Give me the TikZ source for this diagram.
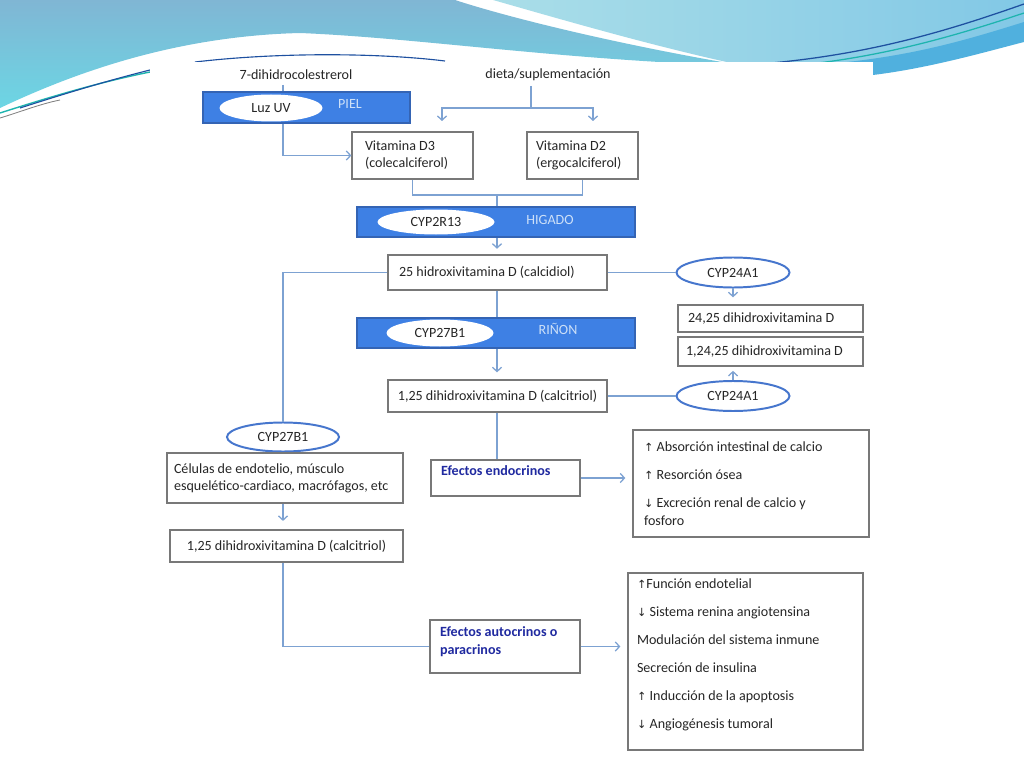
\documentclass[tikz,border=0pt]{standalone}
\usepackage{fontspec}
\setmainfont{Carlito}
\newfontfamily\arrowfont{DejaVu Sans}
\usetikzlibrary{arrows.meta,shapes.geometric}
\newlength{\dimpx}
\setlength{\dimpx}{0.025cm}
\newcommand{\ArrUp}{{\arrowfont\fontsize{8}{10}\selectfont\char"2191}}
\newcommand{\ArrDn}{{\arrowfont\fontsize{8}{10}\selectfont\char"2193}}
\definecolor{barblue}{RGB}{62,128,228}
\definecolor{barline}{RGB}{52,100,180}
\definecolor{connc}{RGB}{125,162,210}
\definecolor{elline}{RGB}{70,118,205}
\definecolor{efblue}{RGB}{32,42,160}
\definecolor{txtc}{RGB}{38,38,38}
\definecolor{boxc}{RGB}{120,120,120}
\definecolor{palec}{RGB}{205,224,248}
\definecolor{lbtop}{RGB}{128,182,212}
\definecolor{lbbot}{RGB}{108,214,228}
\definecolor{rtl}{RGB}{170,222,232}
\definecolor{rtr}{RGB}{130,200,230}
\definecolor{rband}{RGB}{80,176,222}
\definecolor{darkline}{RGB}{30,80,160}
\definecolor{tealline}{RGB}{30,180,175}
\begin{document}
\begin{tikzpicture}[x=0.025cm,y=-0.025cm,
  every node/.style={font=\fontsize{10}{12}\selectfont, text=txtc},
  conn/.style={draw=connc, line width=0.9pt},
  arr/.style={conn, -{Straight Barb[length=3pt,width=6.5pt]}},
  box/.style={draw=boxc, line width=0.9pt, fill=white, inner ysep=0pt, align=flush left},
  cbox/.style={draw=boxc, line width=0.9pt, fill=white, inner sep=0pt, align=center},
  bar/.style={draw=barline, line width=0.8pt, fill=barblue, inner sep=0pt},
  inell/.style={ellipse, fill=white, inner sep=0pt},
  oell/.style={ellipse, draw=elline, line width=1.4pt, fill=white, inner sep=0pt},
  barlab/.style={text=palec},
  eff/.style={text=efblue, font=\fontsize{10}{12.5}\selectfont\bfseries}]
\useasboundingbox (0,0) rectangle (1024,768);
% background slide
\fill[white] (0,0) rectangle (1024,768);
\shade[top color=lbtop, bottom color=lbbot] (0,0) -- (455,0) .. controls (510,18) and (620,45) .. (745,66) .. controls (560,60) and (420,38) .. (300,33) .. controls (180,36) and (80,70) .. (0,108) -- cycle;
\shade[left color=rtl, right color=rtr] (493,0) -- (1024,0) -- (1024,30) .. controls (980,45) and (930,62) .. (873,72) -- (745,66) .. controls (660,48) and (570,22) .. (493,0) -- cycle;
\fill[rband] (1024,22) .. controls (960,42) and (900,60) .. (800,66) -- (873,75) .. controls (930,68) and (985,52) .. (1024,42) -- cycle;
\draw[darkline, line width=0.9pt] (1024,4) .. controls (950,30) and (870,55) .. (760,64);
\draw[tealline, line width=0.9pt] (1024,13) .. controls (955,36) and (880,58) .. (790,66);
\draw[tealline, line width=1pt] (0,113) .. controls (50,97) and (100,82) .. (150,72);
\draw[darkline, line width=0.8pt] (20,108) .. controls (70,92) and (110,80) .. (150,70);
\draw[gray, line width=0.6pt] (0,118) .. controls (20,112) and (40,104) .. (60,100);
\draw[darkline, line width=0.8pt] (195,62) .. controls (280,52) and (380,53) .. (445,61);
\fill[white] (150,62) rectangle (873,768);

% top texts
\node (t7) at (296,75) {7-dihidrocolestrerol};
\node (diet) at (548,75) {dieta/suplementación};

% PIEL
\node[bar, minimum width=207\dimpx, minimum height=31\dimpx] (piel) at (306.5,107.5) {};
\node[inell, minimum width=103\dimpx, minimum height=27\dimpx] (luz) at (271,108) {Luz UV};
\node[barlab] (pielT) at (350,104) {PIEL};

% vitamins
\node[box, minimum width=121\dimpx, minimum height=47\dimpx, text width=95\dimpx, inner xsep=13\dimpx] (vd3) at (412.5,155.5) {Vitamina D3\\(colecalciferol)};
\node[box, minimum width=111\dimpx, minimum height=47\dimpx, text width=93\dimpx, inner xsep=9\dimpx] (vd2) at (582.5,155.5) {Vitamina D2\\(ergocalciferol)};

% HIGADO
\node[bar, minimum width=278\dimpx, minimum height=30\dimpx] (hig) at (496,222) {};
\node[inell, minimum width=117\dimpx, minimum height=25\dimpx] (c2r) at (436,222) {CYP2R13};
\node[barlab] (higT) at (550,220) {HIGADO};

% 25 hidroxi
\node[box, minimum width=219\dimpx, minimum height=35\dimpx, text width=197\dimpx, inner xsep=11\dimpx] (c25) at (497.5,272.5) {25 hidroxivitamina D (calcidiol)};
\node[oell, minimum width=113\dimpx, minimum height=30\dimpx] (e24a) at (733,272.5) {CYP24A1};
\node[box, minimum width=185\dimpx, minimum height=27\dimpx, text width=165\dimpx, inner xsep=10\dimpx] (d2425) at (770.5,318.5) {24,25 dihidroxivitamina D};
\node[box, minimum width=185\dimpx, minimum height=29\dimpx, text width=169\dimpx, inner xsep=8\dimpx] (d12425) at (770.5,351.5) {1,24,25 dihidroxivitamina D};

% RIÑON
\node[bar, minimum width=278\dimpx, minimum height=30\dimpx] (rin) at (496,333) {};
\node[inell, minimum width=107\dimpx, minimum height=27\dimpx] (c27) at (440,333) {CYP27B1};
\node[barlab] (rinT) at (558,329) {RIÑON};

% calcitriol 1
\node[cbox, minimum width=219\dimpx, minimum height=32\dimpx] (ctr1) at (497.5,396) {1,25 dihidroxivitamina D (calcitriol)};
\node[oell, minimum width=113\dimpx, minimum height=30\dimpx] (e24b) at (733,396) {CYP24A1};

% left branch
\node[oell, minimum width=112\dimpx, minimum height=29\dimpx] (e27) at (283,437) {CYP27B1};
\node[box, minimum width=236\dimpx, minimum height=50\dimpx, text width=222\dimpx, inner xsep=7\dimpx] (cel) at (285,478) {Células de endotelio, músculo\\esquelético-cardiaco, macrófagos, etc};
\node[cbox, minimum width=233\dimpx, minimum height=32\dimpx] (ctr2) at (286.5,546) {1,25 dihidroxivitamina D (calcitriol)};

% effects
\node[box, minimum width=149\dimpx, minimum height=36\dimpx, text width=129\dimpx, inner xsep=10\dimpx, eff] (endo) at (505.5,478) {Efectos endocrinos\\[-2pt]\mbox{}};
\node[box, minimum width=150\dimpx, minimum height=53\dimpx, text width=130\dimpx, inner xsep=10\dimpx, eff] (auto) at (505,646.5) {Efectos autocrinos o\\paracrinos\\[-4pt]\mbox{}};

\node[box, minimum width=236\dimpx, minimum height=107\dimpx, text width=214\dimpx, inner xsep=11\dimpx, font=\fontsize{10}{12.5}\selectfont] (rb1) at (751,483.5) {\ArrUp\ Absorción intestinal de calcio\\[7.5pt]\ArrUp\ Resorción ósea\\[7.5pt]\ArrDn\ Excreción renal de calcio y\\fosforo};
\node[box, minimum width=235\dimpx, minimum height=177\dimpx, text width=217\dimpx, inner xsep=9\dimpx, font=\fontsize{10}{19.9}\selectfont] (rb2) at (745.5,661.5) {\ArrUp Función endotelial\\\ArrDn\ Sistema renina angiotensina\\Modulación del sistema inmune\\Secreción de insulina\\\ArrUp\ Inducción de la apoptosis\\\ArrDn\ Angiogénesis tumoral\\[-9pt]\mbox{}};

% connectors
\coordinate (k1) at (283,155.5);
\draw[conn] (k1 |- t7.south) -- (k1 |- piel.north);
\draw[arr] (k1 |- piel.south) -- (k1) -- (vd3.west);
\coordinate (dj) at (531,108);
\coordinate (a3) at (442,121);
\coordinate (a2) at (593,121);
\draw[conn] (dj |- diet.south) -- (dj);
\draw[arr] (dj) -| (a3);
\draw[arr] (dj) -| (a2);
\coordinate (mj) at (497,195);
\draw[conn] (vd3.south) |- (mj) -| (vd2.south);
\draw[conn] (mj) -- (mj |- hig.north);
\draw[arr, shorten >=4pt] (mj |- hig.south) -- (mj |- c25.north);
\draw[conn] (c25.east) -- (e24a.west);
\draw[arr, shorten >=5pt] (e24a.south) -- (e24a.south |- d2425.north);
\draw[conn] (mj |- c25.south) -- (mj |- rin.north);
\draw[arr, shorten >=5pt] (mj |- rin.south) -- (mj |- ctr1.north);
\draw[conn] (ctr1.east) -- (e24b.west);
\draw[arr, shorten >=3pt] (e24b.north) -- (e24b.north |- d12425.south);
\draw[conn] (c25.west) -| (e27.north);
\draw[arr, shorten >=6pt] (e27.south |- cel.south) -- (e27.south |- ctr2.north);
\draw[conn] (e27.south |- ctr2.south) |- (auto.west);
\draw[arr, shorten >=5pt] (auto.east) -- (auto.east -| rb2.west);
\draw[conn] (mj |- ctr1.south) -- (mj |- endo.north);
\draw[arr, shorten >=5pt] (endo.east) -- (endo.east -| rb1.west);
\end{tikzpicture}
\end{document}
